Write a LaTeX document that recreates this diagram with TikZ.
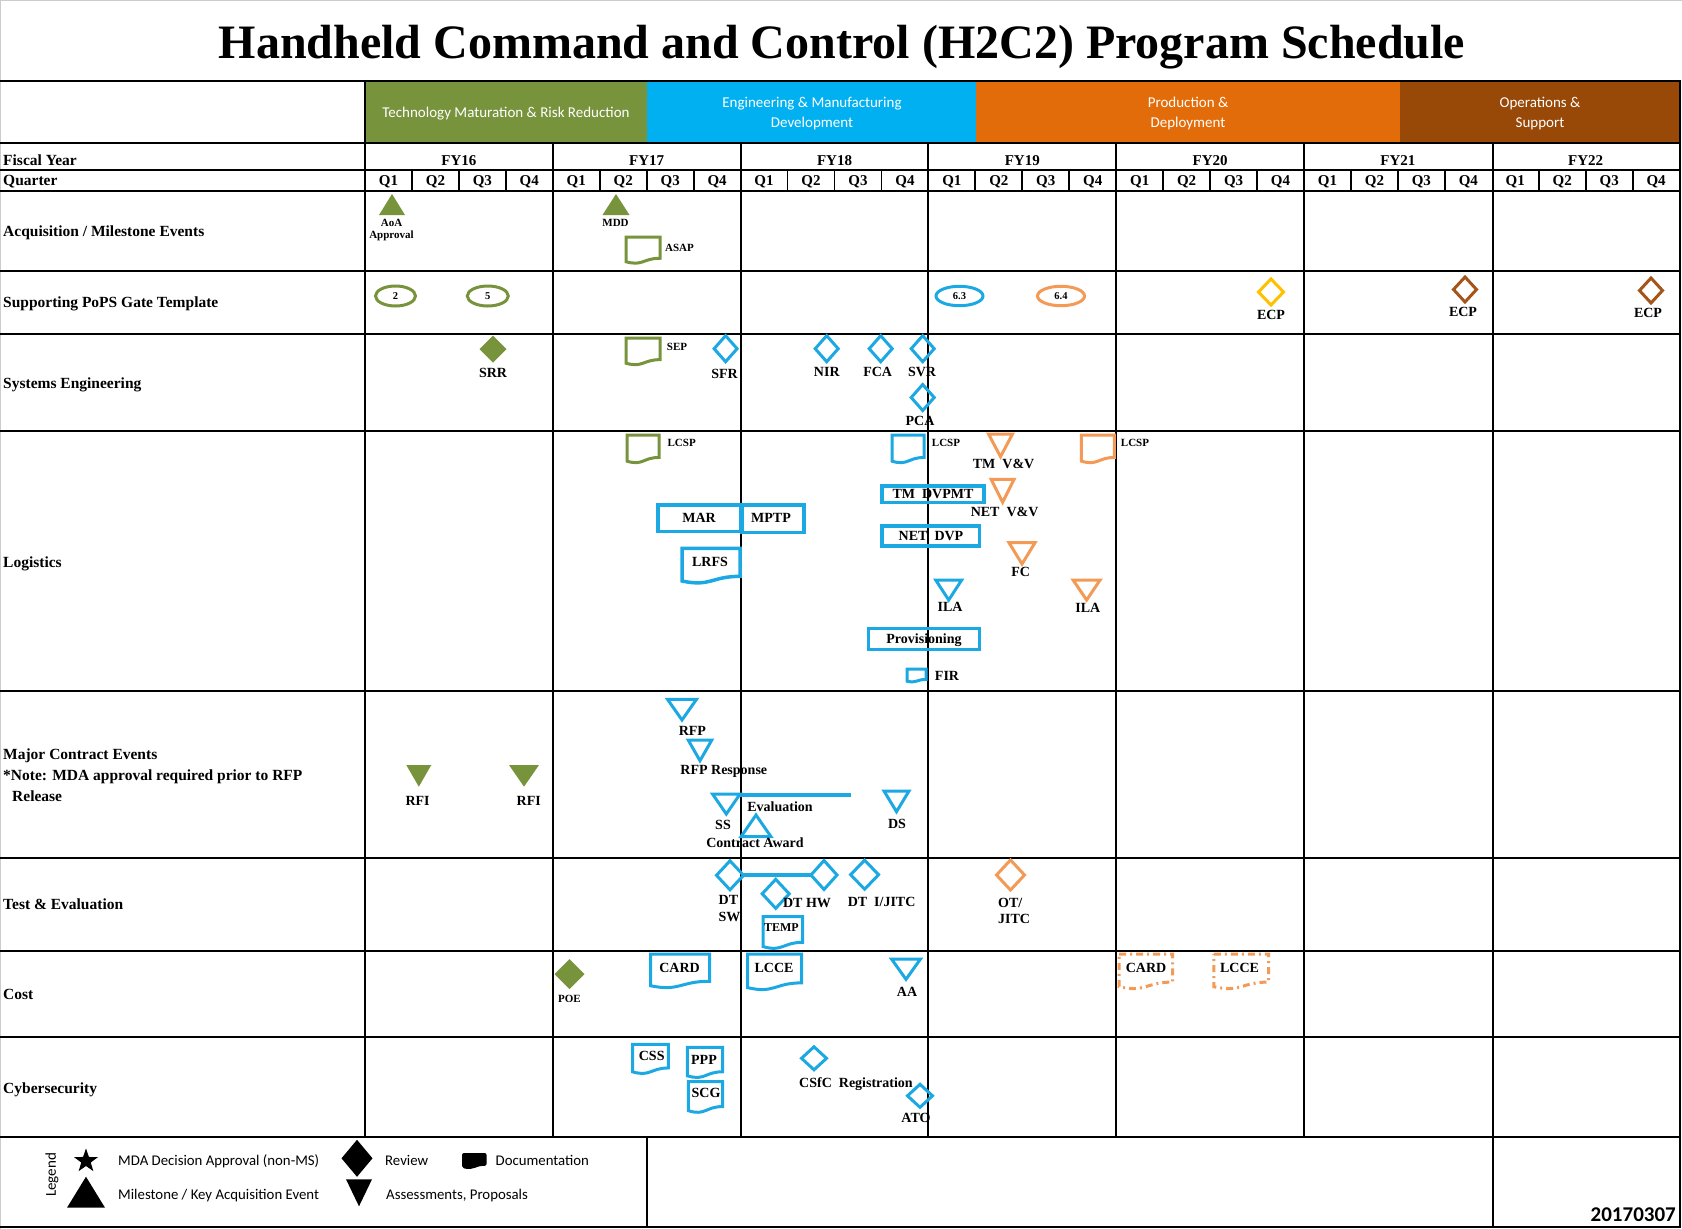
\documentclass[tikz,border=0pt]{standalone}
\usepackage{fontspec}
\setmainfont{Liberation Serif}
\newfontfamily\calib{Carlito}
\usetikzlibrary{shapes.geometric}
\definecolor{phgreen}{RGB}{119,147,60}
\definecolor{phblue}{RGB}{0,176,240}
\definecolor{phorange}{RGB}{227,108,10}
\definecolor{phbrown}{RGB}{152,72,7}
\definecolor{cgreen}{RGB}{119,147,60}
\definecolor{cblue}{RGB}{28,168,226}
\definecolor{corange}{RGB}{242,154,86}
\definecolor{cyellow}{RGB}{255,192,0}
\definecolor{cbrown}{RGB}{165,85,25}
\tikzset{
 grid/.style={line width=2.5pt, draw=black},
 qline/.style={line width=1.8pt, draw=black},
 sym/.style={line width=3pt, line join=miter},
 bsym/.style={sym, draw=cblue},
 osym/.style={sym, draw=corange},
 gsym/.style={sym, draw=cgreen},
 ysym/.style={sym, draw=cyellow},
 brsym/.style={sym, draw=cbrown},
 odash/.style={sym, draw=corange, dash pattern=on 7pt off 4pt on 2pt off 4pt},
 gfill/.style={fill=cgreen},
 kfill/.style={fill=black},
 boxs/.style={line width=3.5pt, draw=cblue},
 tx/.style={inner sep=0pt, font=\bfseries\fontsize{14}{14}\selectfont, text height=9.3pt, text depth=0pt},
 stx/.style={inner sep=0pt, font=\bfseries\fontsize{11}{11}\selectfont, text height=7.3pt, text depth=0pt},
 etx/.style={inner sep=0pt, font=\bfseries\fontsize{10.5}{10.5}\selectfont, text height=7pt, text depth=0pt},
 rowl/.style={inner sep=0pt, anchor=west, font=\bfseries\fontsize{15.5}{15.5}\selectfont, text height=10.3pt, text depth=0pt},
 hdr/.style={inner sep=0pt, font=\bfseries\fontsize{15}{15}\selectfont, text height=10pt, text depth=0pt},
 ph/.style={inner sep=0pt, text=white, font=\calib\fontsize{15}{15}\selectfont, text height=9.7pt, text depth=0pt},
 lg/.style={inner sep=0pt, anchor=west, font=\calib\fontsize{14.8}{14.8}\selectfont, text height=9.5pt, text depth=0pt},
}
% document shape: top-left x,y ; width ; height
\newcommand{\docshp}[5][]{\path[#1] (#2,#3) -- ({#2+#4},#3) -- ({#2+#4},{#3+0.802*#5}) .. controls ({#2+0.5*#4},{#3+0.802*#5}) and ({#2+0.5*#4},{#3+1.108*#5}) .. (#2,{#3+0.934*#5}) -- cycle;}
% diamond: centre x,y ; width ; height
\newcommand{\dmd}[5][]{\path[#1] (#2,{#3-0.5*#5}) -- ({#2+0.5*#4},#3) -- (#2,{#3+0.5*#5}) -- ({#2-0.5*#4},#3) -- cycle;}
% triangles: centre x, top y ; width ; height
\newcommand{\tdn}[5][]{\path[#1] ({#2-0.5*#4},#3) -- ({#2+0.5*#4},#3) -- (#2,{#3+#5}) -- cycle;}
\newcommand{\tup}[5][]{\path[#1] (#2,#3) -- ({#2+0.5*#4},{#3+#5}) -- ({#2-0.5*#4},{#3+#5}) -- cycle;}
\newcommand{\bx}[5][]{\path[#1] (#2,#3) rectangle (#4,#5);}
\begin{document}
\begin{tikzpicture}[x=1pt,y=-1pt]
\useasboundingbox (0,0) rectangle (1682,1229);
\draw[gray!40, line width=1pt] (0.5,1229) -- (0.5,0.5) -- (1682,0.5);
% title
\node[inner sep=0pt, font=\bfseries\fontsize{48}{48}\selectfont, text height=31.8pt, text depth=0pt] (title) at (842,43) {Handheld Command and Control (H2C2) Program Schedule};
% phases
\fill[phgreen] (365,81) rectangle (647,143);
\fill[phblue] (647,81) rectangle (976,143);
\fill[phorange] (976,81) rectangle (1400,143);
\fill[phbrown] (1400,81) rectangle (1680,143);
\node[ph] (ph1) at (506,113) {Technology Maturation \& Risk Reduction};
\node[ph] (ph2a) at (812,103) {Engineering \& Manufacturing};
\node[ph] (ph2b) at (812,123) {Development};
\node[ph] (ph3a) at (1188,103) {Production \&};
\node[ph] (ph3b) at (1188,123) {Deployment};
\node[ph] (ph4a) at (1540,103) {Operations \&};
\node[ph] (ph4b) at (1540,123) {Support};
% grid
\foreach \yy in {81,143,170,191,271,334,431,691,858,951,1037,1137,1227} \draw[grid] (0,\yy) -- (1681.2,\yy);
\draw[grid] (365,81) -- (365,1137);
\foreach \xx in {553,741,928,1116,1304,1493} \draw[grid] (\xx,143) -- (\xx,1137);
\draw[grid] (1680,81) -- (1680,1227);
\foreach \k in {0,...,6} \foreach \q in {1,2,3} \draw[qline] ({365+187.8*\k+46.95*\q},170) -- ({365+187.8*\k+46.95*\q},191);
\draw[grid] (647,1137) -- (647,1227);
\draw[grid] (1493,1137) -- (1493,1227);
% header labels
\foreach \k/\yr in {0/16,1/17,2/18,3/19,4/20,5/21,6/22} {
  \node[hdr] (fy\yr) at ({365+187.8*\k+93.9},160) {FY\yr};
  \foreach \q in {1,2,3,4} \node[hdr] (q\yr-\q) at ({365+187.8*\k+46.95*\q-23.475},180.5) {Q\q};
}
% row labels
\node[rowl] (lfy) at (3,160) {Fiscal Year};
\node[rowl] (lq) at (3,180.5) {Quarter};
\node[rowl] (lacq) at (3,231.5) {Acquisition / Milestone Events};
\node[rowl] (lpops) at (3,302.5) {Supporting PoPS Gate Template};
\node[rowl] (lse) at (3,383) {Systems Engineering};
\node[rowl] (llog) at (3,562) {Logistics};
\node[rowl] (lmce) at (3,754) {Major Contract Events};
\node[rowl] (lnote) at (3,775.5) {*Note: MDA approval required prior to RFP};
\node[rowl] (lrel) at (12,796) {Release};
\node[rowl] (lte) at (3,904) {Test \& Evaluation};
\node[rowl] (lcost) at (3,994) {Cost};
\node[rowl] (lcyber) at (3,1088) {Cybersecurity};
% ---- Acquisition / Milestone
\tup[gfill]{392}{194}{26}{21}
\node[stx] (aoa) at (391.5,223) {AoA};
\node[stx] (aoa2) at (391.5,235) {Approval};
\tup[gfill]{616}{194}{27}{21}
\node[stx] (mdd) at (615.5,223) {MDD};
\docshp[gsym]{626}{237}{34}{26.5}
\node[stx] (asap) at (679.5,248) {ASAP};
% ---- PoPS
\draw[gsym] (395.5,296) ellipse [x radius=20, y radius=10];
\node[etx] (e2) at (395.5,296) {2};
\draw[gsym] (487.8,296) ellipse [x radius=20.5, y radius=10];
\node[etx] (e5) at (487.8,296) {5};
\draw[bsym] (959.5,296) ellipse [x radius=23.5, y radius=9.7];
\node[etx] (e63) at (959.5,296) {6.3};
\draw[osym] (1061,296) ellipse [x radius=23.5, y radius=9.7];
\node[etx] (e64) at (1061,296) {6.4};
\dmd[ysym]{1271}{292}{25}{26}
\node[tx] (ecp1) at (1271,315) {ECP};
\dmd[brsym]{1465}{289.5}{23}{25}
\node[tx] (ecp2) at (1463,312) {ECP};
\dmd[brsym]{1651}{290.5}{23}{25}
\node[tx] (ecp3) at (1648,312.7) {ECP};
% ---- Systems Engineering
\dmd[gfill]{493}{349}{27}{27}
\node[tx] (srr) at (493,372.7) {SRR};
\docshp[gsym]{626}{338}{34}{27}
\node[stx] (sep) at (677,347) {SEP};
\dmd[bsym]{725.6}{348.7}{23}{26}
\node[tx] (sfr) at (724.6,374) {SFR};
\dmd[bsym]{826.7}{348.7}{23}{26}
\node[tx] (nir) at (826.8,372) {NIR};
\dmd[bsym]{880.7}{348.7}{23}{26}
\node[tx] (fca) at (877.7,372) {FCA};
\dmd[bsym]{922.7}{348.7}{23}{26}
\node[tx] (svr) at (922,372) {SVR};
\dmd[bsym]{922.7}{397.5}{23}{26}
\node[tx] (pca) at (920,420.7) {PCA};
% ---- Logistics
\docshp[gsym]{627}{435}{32}{28}
\node[stx] (lcsp1) at (681.7,442.7) {LCSP};
\docshp[bsym]{892}{435}{32}{28}
\node[stx] (lcsp2) at (946,442.7) {LCSP};
\tdn[osym]{1000.5}{434}{24}{22.7}
\node[tx] (tmvv) at (1003.6,464.3) {TM~~V\&V};
\docshp[osym]{1081.4}{435}{33}{28}
\node[stx] (lcsp3) at (1135,442.7) {LCSP};
\bx[boxs]{882}{486}{984}{502.3}
\node[tx] (tmdv) at (933,494.2) {TM~~DVPMT};
\tdn[osym]{1002.6}{479.3}{23}{23}
\node[tx] (netvv) at (1004.6,511.7) {NET~~V\&V};
\bx[boxs]{658}{505}{741}{531.7}
\node[tx] (mar) at (699,518.3) {MAR};
\bx[boxs]{742}{505}{804}{532.7}
\node[tx] (mptp) at (771,518.3) {MPTP};
\bx[boxs]{882}{526}{979.6}{546}
\node[tx] (netdvp) at (931,536) {NET~~DVP};
\docshp[boxs]{682}{548.3}{58}{35}
\node[tx] (lrfs) at (710,562.3) {LRFS};
\tdn[osym]{1022}{542.7}{26}{21.3}
\node[tx] (fc) at (1020.7,571.7) {FC};
\tdn[bsym]{948.7}{580}{26}{20}
\node[tx] (ila1) at (950,606.7) {ILA};
\tdn[osym]{1086.6}{580}{27}{20}
\node[tx] (ila2) at (1087.9,608.3) {ILA};
\bx[boxs]{868.6}{628.3}{979.6}{649.3}
\node[tx] (prov) at (924,639.3) {Provisioning};
\docshp[bsym]{907}{669}{19}{13}
\node[tx] (fir) at (947,676) {FIR};
% ---- Major Contract Events
\tdn[gfill]{418.8}{765}{25}{21.7}
\node[tx] (rfi1) at (417.6,801) {RFI};
\tdn[gfill]{524}{765}{30}{21.7}
\node[tx] (rfi2) at (528.7,801) {RFI};
\tdn[bsym]{682}{699.3}{29}{20.7}
\node[tx] (rfp) at (692.4,730.7) {RFP};
\tdn[bsym]{700}{740}{23.6}{20.7}
\node[tx] (rfpr) at (723.8,770) {RFP Response};
\tdn[bsym]{726.3}{794}{27.5}{20}
\coordinate (evalS) at (738,795.3);
\coordinate (evalE) at (851,795.3);
\draw[cblue, line width=4pt] (evalS) -- (evalE);
\node[tx] (ss) at (723,825) {SS};
\node[tx] (evl) at (780,806.7) {Evaluation};
\tup[bsym]{756}{815}{30}{21.7}
\node[tx] (ca) at (755,843.3) {Contract Award};
\tdn[bsym]{896.5}{791}{25}{20.7}
\node[tx] (ds) at (897,824) {DS};
% ---- Test & Evaluation
\dmd[bsym]{730}{875.3}{27}{29}
\coordinate (dtswE) at (743.5,875);
\dmd[bsym]{824}{875}{26}{29}
\coordinate (dthwW) at (811,875);
\draw[cblue, line width=4pt] (dtswE) -- (dthwW);
\dmd[bsym]{775.7}{893.8}{27}{29}
\node[tx] (dthw) at (807,902.7) {DT HW};
\dmd[bsym]{864.6}{874.7}{28}{29}
\node[tx] (dtij) at (881.6,901.7) {DT~~I/JITC};
\node[tx, anchor=west] (dt) at (718.5,900) {DT};
\node[tx, anchor=west] (sw) at (718.5,916.7) {SW};
\docshp[bsym]{763}{916.7}{39.5}{32}
\node[inner sep=0pt, font=\bfseries\fontsize{12}{12}\selectfont, text height=8pt, text depth=0pt] (temp) at (781.4,927.7) {TEMP};
\dmd[osym]{1010.5}{875}{28}{30}
\node[tx, anchor=west] (ot) at (998,903.3) {OT/};
\node[tx, anchor=west] (jitc) at (998,919) {JITC};
% ---- Cost
\dmd[gfill]{569.5}{974}{30}{30}
\node[stx] (poe) at (569.5,998.5) {POE};
\docshp[bsym]{650.5}{954}{59}{34}
\node[tx] (card1) at (679.6,967.7) {CARD};
\docshp[bsym]{747.5}{954}{54}{36}
\node[tx] (lcce1) at (774,967.7) {LCCE};
\tdn[bsym]{906}{959}{29}{20.3}
\node[tx] (aa) at (907,991.7) {AA};
\docshp[odash]{1119}{954}{53.6}{35}
\node[tx] (card2) at (1146,967.7) {CARD};
\docshp[odash]{1213.8}{954}{54.8}{35}
\node[tx] (lcce2) at (1239.5,967.7) {LCCE};
% ---- Cybersecurity
\docshp[bsym]{632.7}{1044.3}{35.6}{29.5}
\node[tx] (css) at (651.7,1056) {CSS};
\docshp[bsym]{687.3}{1047.3}{35.4}{30.5}
\node[tx] (ppp) at (704,1060) {PPP};
\docshp[bsym]{688.3}{1081.7}{34.4}{31}
\node[tx] (scg) at (706,1092.7) {SCG};
\dmd[bsym]{814}{1058.3}{25}{23}
\node[tx] (csfc) at (856,1083.3) {CSfC~~Registration};
\dmd[bsym]{920}{1095.8}{25}{23}
\node[tx] (ato) at (916,1118.3) {ATO};
% ---- Legend
\node[inner sep=0pt, rotate=90, font=\calib\fontsize{15}{15}\selectfont] (lgd) at (52,1175) {Legend};
\node[star, star points=5, star point ratio=2.5, fill=black, inner sep=0pt, minimum size=25pt] (lgstar) at (86,1161) {};
\tup[kfill]{86}{1176.7}{38}{31}
\node[lg] (lg1) at (118,1161) {MDA Decision Approval (non-MS)};
\node[lg] (lg2) at (118,1195) {Milestone / Key Acquisition Event};
\dmd[kfill]{357}{1158.3}{31}{37}
\tdn[kfill]{359}{1179.3}{26}{27}
\node[lg] (lg3) at (385,1161) {Review};
\node[lg] (lg4) at (386,1195) {Assessments, Proposals};
\docshp[kfill, rounded corners=2pt]{462}{1153}{24.6}{16}
\node[lg] (lg5) at (495.5,1161) {Documentation};
\node[inner sep=0pt, anchor=east, font=\calib\bfseries\fontsize{21}{21}\selectfont, text height=13.5pt, text depth=0pt] (date) at (1676,1215) {20170307};
\end{tikzpicture}
\end{document}
